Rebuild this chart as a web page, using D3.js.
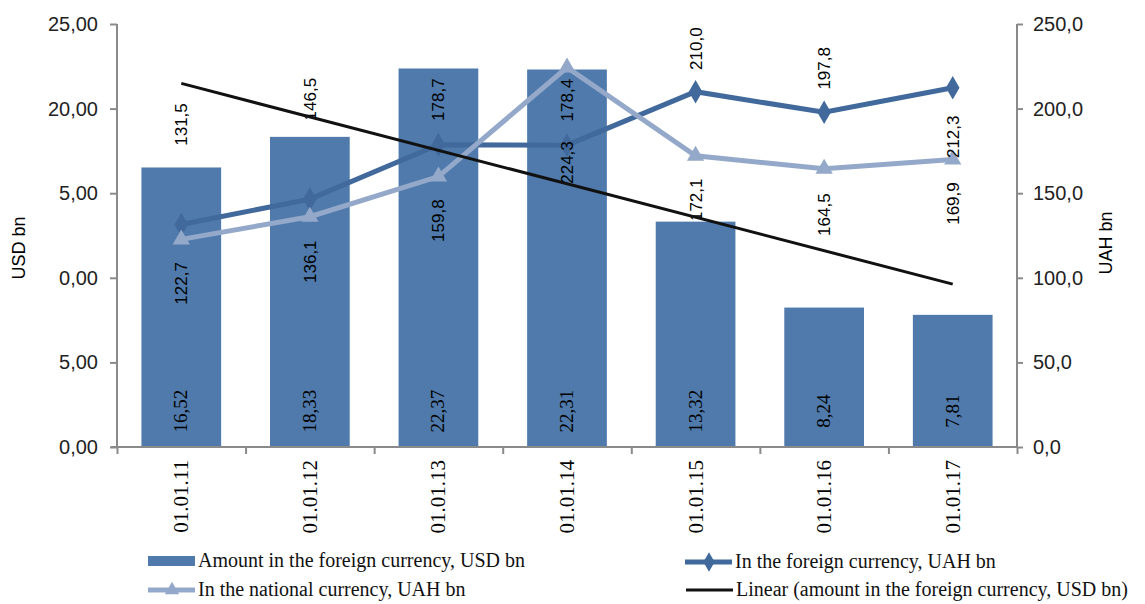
<!DOCTYPE html>
<html>
<head>
<meta charset="utf-8">
<script src="https://cdn.jsdelivr.net/npm/d3@7"></script>
<style>
  body { margin: 0; background: #fff; }
  svg { display: block; }
</style>
</head>
<body>
<svg id="chart" width="1145" height="604"></svg>
<script>
// data
var categories = ["01.01.11", "01.01.12", "01.01.13", "01.01.14", "01.01.15", "01.01.16", "01.01.17"];
var usdAmount = [16.52, 18.33, 22.37, 22.31, 13.32, 8.24, 7.81];
var foreignUah = [131.5, 146.5, 178.7, 178.4, 210.0, 197.8, 212.3];
var nationalUah = [122.7, 136.1, 159.8, 224.3, 172.1, 164.5, 169.9];
var leftTicks = [0, 5, 10, 15, 20, 25];
var leftTickLabels = ["0,00", "5,00", "0,00", "5,00", "20,00", "25,00"];
var rightTicks = [0, 50, 100, 150, 200, 250];
var rightTickLabels = ["0,0", "50,0", "100,0", "150,0", "200,0", "250,0"];
var legendItems = [
  { key: "bar", text: "Amount in the foreign currency, USD bn" },
  { key: "foreign", text: "In the foreign currency, UAH bn" },
  { key: "national", text: "In the national currency, UAH bn" },
  { key: "trend", text: "Linear (amount in the foreign currency, USD bn)" }
];

var barColor = "#4f7aab", darkColor = "#41699b", lightColor = "#94a9c9", axisColor = "#8a8a8a";
var serif = "'Liberation Serif', 'Times New Roman', serif";
var sans = "'Liberation Sans', Arial, sans-serif";

var svg = d3.select("#chart");
var plotLeft = 117, plotRight = 1017, plotTop = 24, plotBottom = 447;

var x = d3.scaleBand().domain(categories).range([plotLeft, plotRight]).paddingInner(0.38).paddingOuter(0.19);
var xGrid = d3.scaleLinear().domain([0, categories.length]).range([plotLeft, plotRight]);
var yL = d3.scaleLinear().domain([0, 25]).range([plotBottom, plotTop]);
var yR = d3.scaleLinear().domain([0, 250]).range([plotBottom, plotTop]);
var cx = function(i) { return x(categories[i]) + x.bandwidth() / 2; };

// bars
svg.append("g").selectAll("rect")
  .data(usdAmount).enter().append("rect")
  .attr("x", function(d, i) { return x(categories[i]); })
  .attr("y", function(d) { return yL(d); })
  .attr("width", x.bandwidth())
  .attr("height", function(d) { return plotBottom - yL(d); })
  .attr("fill", barColor);

// bar labels
svg.append("g").selectAll("text")
  .data(usdAmount).enter().append("text")
  .attr("transform", function(d, i) { return "translate(" + (cx(i) + 6) + "," + (plotBottom - 36) + ") rotate(-90)"; })
  .attr("text-anchor", "middle")
  .style("font-family", serif).style("font-size", "19px")
  .text(function(d) { return d.toFixed(2).replace(".", ","); });

// axes
var axL = svg.append("g").attr("transform", "translate(" + plotLeft + ",0)")
  .call(d3.axisLeft(yL).tickValues(leftTicks).tickSize(7).tickPadding(12)
    .tickFormat(function(d, i) { return leftTickLabels[i]; }));
var axR = svg.append("g").attr("transform", "translate(" + plotRight + ",0)")
  .call(d3.axisRight(yR).tickValues(rightTicks).tickSize(6).tickPadding(10)
    .tickFormat(function(d, i) { return rightTickLabels[i]; }));
var axB = svg.append("g").attr("transform", "translate(0," + plotBottom + ")")
  .call(d3.axisBottom(xGrid).tickValues(d3.range(categories.length + 1)).tickSize(7).tickFormat(""));
[axL, axR, axB].forEach(function(a) {
  a.selectAll("path.domain").attr("stroke", axisColor).attr("stroke-width", 2);
  a.selectAll(".tick line").attr("stroke", axisColor).attr("stroke-width", 2);
});
axL.select("path.domain").attr("d", "M0," + plotTop + "V" + plotBottom);
axR.select("path.domain").attr("d", "M0," + plotTop + "V" + plotBottom);
axB.select("path.domain").attr("d", "M" + (plotLeft - 6) + ",0H" + plotRight);
[axL, axR].forEach(function(a) {
  a.selectAll(".tick text").style("font-family", sans).style("font-size", "20px").attr("fill", "#222");
});

// category labels
svg.append("g").selectAll("text")
  .data(categories).enter().append("text")
  .attr("transform", function(d, i) { return "translate(" + (cx(i) + 7) + "," + (plotBottom + 13) + ") rotate(-90)"; })
  .attr("text-anchor", "end")
  .style("font-family", serif).style("font-size", "21px")
  .text(function(d) { return d; });

// axis titles
svg.append("text").attr("transform", "translate(25,248) rotate(-90)")
  .attr("text-anchor", "middle").style("font-family", sans).style("font-size", "18px").text("USD bn");
svg.append("text").attr("transform", "translate(1112,243) rotate(-90)")
  .attr("text-anchor", "middle").style("font-family", sans).style("font-size", "18px").text("UAH bn");

// value lines, foreign first so national sits on top
var line = d3.line().x(function(d, i) { return cx(i); }).y(function(d) { return yR(d); });
function addSeries(vals, color, symbolType, size) {
  svg.append("path").datum(vals).attr("d", line)
    .attr("fill", "none").attr("stroke", color).attr("stroke-width", 5);
  svg.append("g").selectAll("path")
    .data(vals).enter().append("path")
    .attr("transform", function(d, i) { return "translate(" + cx(i) + "," + yR(d) + ")"; })
    .attr("d", d3.symbol().type(symbolType).size(size))
    .attr("fill", color);
}
addSeries(foreignUah, darkColor, d3.symbolDiamond, 160);
addSeries(nationalUah, lightColor, d3.symbolTriangle, 130);

// trend line (least squares on the USD bars)
var n = usdAmount.length, mx = (n + 1) / 2, my = d3.mean(usdAmount);
var slope = d3.sum(usdAmount, function(d, i) { return (i + 1 - mx) * (d - my); }) /
            d3.sum(usdAmount, function(d, i) { return (i + 1 - mx) * (i + 1 - mx); });
var trend = [0, n - 1].map(function(i) { return [cx(i), yL(my + slope * (i + 1 - mx))]; });

// line labels (vertical offsets from the marker)
var foreignDy = [-100, -100, -45, -45, -43, -44, 49];
var nationalDy = [44, 45, 44, 95, 44, 46, 44];
function addLabels(vals, dys) {
  svg.append("g").selectAll("text")
    .data(vals).enter().append("text")
    .attr("transform", function(d, i) { return "translate(" + (cx(i) + 6) + "," + (yR(d) + dys[i]) + ") rotate(-90)"; })
    .attr("text-anchor", "middle")
    .style("font-family", sans).style("font-size", "17px")
    .text(function(d) { return d.toFixed(1).replace(".", ","); });
}
addLabels(foreignUah, foreignDy);
addLabels(nationalUah, nationalDy);

svg.append("path").datum(trend).attr("d", d3.line())
  .attr("stroke", "#111").attr("stroke-width", 3).attr("fill", "none");

// legend
var legPos = [[148, 561], [685, 562], [148, 590], [686, 590]];
var leg = svg.append("g").selectAll("g")
  .data(legendItems).enter().append("g")
  .attr("transform", function(d, i) { return "translate(" + legPos[i][0] + "," + legPos[i][1] + ")"; });
leg.each(function(d) {
  var g = d3.select(this);
  if (d.key === "bar") {
    g.append("rect").attr("x", 0).attr("y", -5).attr("width", 47).attr("height", 10).attr("fill", barColor);
  } else {
    var c = d.key === "foreign" ? darkColor : d.key === "national" ? lightColor : "#111";
    g.append("line").attr("x1", 0).attr("x2", 47).attr("stroke", c).attr("stroke-width", d.key === "trend" ? 3 : 5);
    if (d.key !== "trend") {
      g.append("path").attr("transform", "translate(24,0)")
        .attr("d", d3.symbol().type(d.key === "foreign" ? d3.symbolDiamond : d3.symbolTriangle).size(d.key === "foreign" ? 110 : 90))
        .attr("fill", c);
    }
  }
  g.append("text").attr("x", 50).attr("y", 6)
    .style("font-family", serif).style("font-size", "20px").attr("fill", "#111")
    .text(d.text);
});
</script>
</body>
</html>
